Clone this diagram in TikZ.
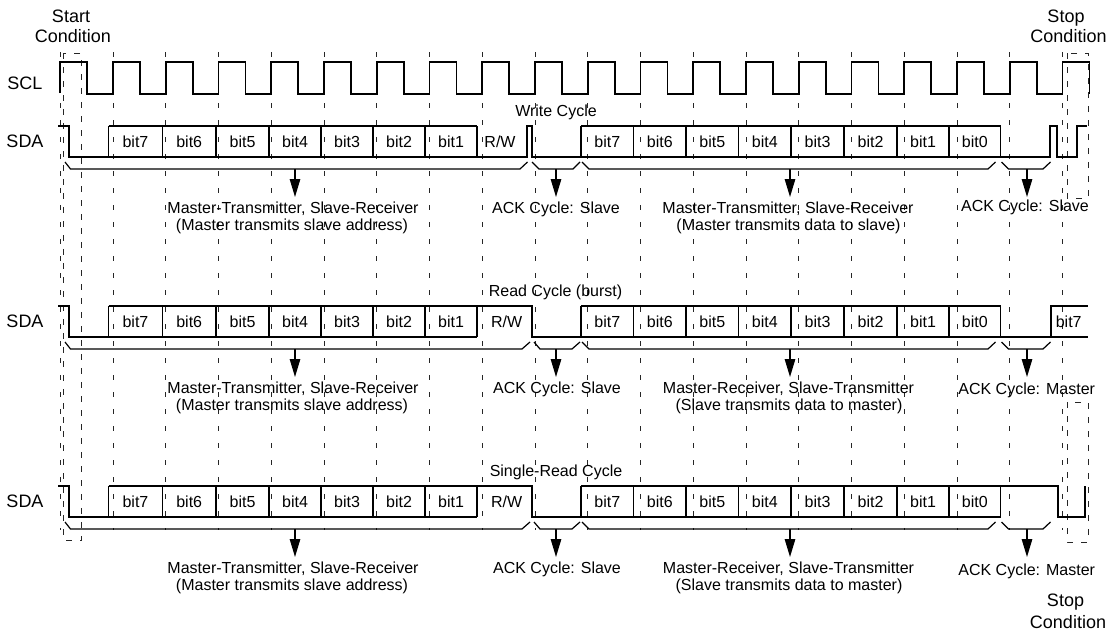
\documentclass[tikz,border=0pt]{standalone}
\usepackage{fontspec}
\setmainfont{Liberation Sans}
\usetikzlibrary{arrows.meta}
\begin{document}
\begin{tikzpicture}[x=1pt,y=-1pt,
  wave/.style={line width=1.8pt, line join=miter},
  brk/.style={line width=1.2pt},
  gridline/.style={line width=0.9pt, black!85, dash pattern=on 5pt off 12pt},
  condbox/.style={line width=0.9pt, black!85, dash pattern=on 6pt off 8pt},
  arr/.style={line width=1.3pt, -{Triangle[length=18pt,width=10.5pt]}},
  lbl/.style={font=\fontsize{18}{20}\selectfont, inner sep=0pt},
  big/.style={font=\fontsize{18}{20}\selectfont, inner sep=0pt, anchor=base},
  txt/.style={font=\fontsize{16}{18}\selectfont, inner sep=0pt, anchor=base},
  bitt/.style={font=\fontsize{16}{18}\selectfont, inner sep=0pt},
]
\useasboundingbox (0,0) rectangle (1119,632);

% dashed timing grid
\foreach \k in {-1,...,18}
  \draw[gridline] ({113+52.75*\k},52) -- ({113+52.75*\k},530);

% start / stop condition boxes
\draw[condbox] (63,53) rectangle (81.5,540);
\draw[condbox] (1067,53) rectangle (1088,198);
\draw[condbox] (1067,402) rectangle (1088,542);

% condition labels
\node[big] (startA) at (71,22.5) {Start};
\node[big] (startB) at (73,42.5) {Condition};
\node[big] (stopA) at (1066,22.5) {Stop};
\node[big] (stopB) at (1068.5,42.5) {Condition};
\node[big] (stopC) at (1065.5,606.5) {Stop};
\node[big] (stopD) at (1068,628.5) {Condition};

% SCL
\node[lbl] (scl) at (25,83.7) {SCL};
\draw[wave] (60.25,93) -- (60.25,62) -- (87.25,62) -- (87.25,94)
  foreach \k in {0,...,18}{ -- ({113+52.75*\k},94) -- ({113+52.75*\k},62)
  -- ({140+52.75*\k},62) -- ({140+52.75*\k},94) };

% common parts of the three SDA rows
\foreach \r/\dy in {1/0,2/180,3/360}{
  \begin{scope}[shift={(0,\dy)}]
    \node[lbl] (sda\r) at (25,141) {SDA};
    \draw[wave] (58,126) -- (69,126) -- (69,157) -- (477,157);
    \foreach \x in {108.5,162.5,216,269,321,373,425,477,581,633.5,686,738.5,791,844,897,949,1000.5}
      \draw[wave] (\x,126) -- (\x,157);
    \foreach \x/\t [count=\i] in {135.5/bit7,189.25/bit6,242.5/bit5,295/bit4,347/bit3,399/bit2,451/bit1,607.25/bit7,659.75/bit6,712.25/bit5,764.75/bit4,817.5/bit3,870.5/bit2,923/bit1,974.75/bit0}
      \node[bitt] (b\r-\i) at (\x,141.5) {\t};
    \draw[brk] (582,162) -- (589,169) -- (988,169) -- (995.5,162);
    \draw[brk] (1001.5,162) -- (1008.5,169) -- (1043,169) -- (1050.5,162);
    \coordinate (p\r a) at (295,169);  \coordinate (q\r a) at (295,197);
    \coordinate (p\r b) at (556,169);  \coordinate (q\r b) at (556,197);
    \coordinate (p\r c) at (790,169);  \coordinate (q\r c) at (790,197);
    \coordinate (p\r d) at (1027,169); \coordinate (q\r d) at (1027,197);
    \draw[arr] (p\r a) -- (q\r a);
    \draw[arr] (p\r b) -- (q\r b);
    \draw[arr] (p\r c) -- (q\r c);
    \draw[arr] (p\r d) -- (q\r d);
  \end{scope}
}

% ---- Row 1: write cycle
\node[txt] (ttl1) at (556,116.5) {Write Cycle};
\draw[wave] (477,157) -- (527,157) -- (527,126) -- (532,126) -- (532,157) -- (1050,157)
  -- (1050,126) -- (1057,126) -- (1057,157) -- (1077,157) -- (1077,126) -- (1087,126);
\draw[wave] (108.5,126) -- (477,126);
\draw[wave] (581,126) -- (1000.5,126);
\node[bitt] (rw1) at (500,141.5) {R/W};
\draw[brk] (65,162) -- (70.5,169) -- (520,169) -- (527.5,162);
\draw[brk] (532,162) -- (539,169) -- (573,169) -- (580,162);
\node[txt] (m1a) at (293,213.5) {Master-Transmitter, Slave-Receiver};
\node[txt] (m1b) at (292,230) {(Master transmits slave address)};
\node[txt] (k1a) at (556,213.5) {ACK Cycle: Slave};
\node[txt] (d1a) at (788,213.5) {Master-Transmitter, Slave-Receiver};
\node[txt] (d1b) at (788.5,230) {(Master transmits data to slave)};
\node[txt] (k1b) at (1025,211) {ACK Cycle: Slave};

% ---- Row 2: read cycle (burst)
\node[txt] (ttl2) at (555.5,296.5) {Read Cycle (burst)};
\draw[wave] (108.5,306) -- (531.7,306) -- (531.7,337) -- (1088,337);
\draw[wave] (581,306) -- (1000.5,306);
\draw[wave] (1050.7,337) -- (1050.7,306) -- (1088,306);
\node[bitt] (rw2) at (506.7,321.5) {R/W};
\node[bitt] (b2-16) at (1068.7,321.5) {bit7};
\draw[brk] (65,342) -- (70.5,349) -- (522,349) -- (530,342);
\draw[brk] (534,342) -- (540,349) -- (572,349) -- (580,342);
\node[txt] (m2a) at (293,393.5) {Master-Transmitter, Slave-Receiver};
\node[txt] (m2b) at (292,410) {(Master transmits slave address)};
\node[txt] (k2a) at (557,393.5) {ACK Cycle: Slave};
\node[txt] (d2a) at (788.5,393.5) {Master-Receiver, Slave-Transmitter};
\node[txt] (d2b) at (789,410) {(Slave transmits data to master)};
\node[txt] (k2b) at (1026.7,394.5) {ACK Cycle: Master};

% ---- Row 3: single-read cycle
\node[txt] (ttl3) at (556,476.5) {Single-Read Cycle};
\draw[wave] (108.5,486) -- (531.7,486) -- (531.7,517) -- (1000.5,517);
\draw[wave] (581,486) -- (1058,486) -- (1058,517) -- (1085,517) -- (1085,486);
\node[bitt] (rw3) at (506.7,501.5) {R/W};
\draw[brk] (65,522) -- (70.5,529) -- (522,529) -- (530,522);
\draw[brk] (534,522) -- (540,529) -- (572,529) -- (580,522);
\node[txt] (m3a) at (293,573.5) {Master-Transmitter, Slave-Receiver};
\node[txt] (m3b) at (292,590) {(Master transmits slave address)};
\node[txt] (k3a) at (557,573.5) {ACK Cycle: Slave};
\node[txt] (d3a) at (788.5,573.5) {Master-Receiver, Slave-Transmitter};
\node[txt] (d3b) at (789,590) {(Slave transmits data to master)};
\node[txt] (k3b) at (1026.7,575) {ACK Cycle: Master};
\end{tikzpicture}
\end{document}
